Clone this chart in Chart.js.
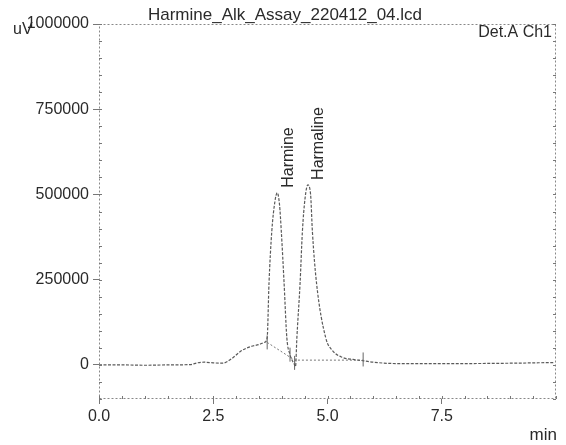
<!DOCTYPE html>
<html>
<head>
<meta charset="utf-8">
<script src="https://cdn.jsdelivr.net/npm/chart.js@4"></script>
<style>
  html, body { margin: 0; padding: 0; background: #fff; }
  #wrap { width: 566px; height: 445px; }
</style>
</head>
<body>
<div id="wrap"><canvas id="chrom" width="566" height="445"></canvas></div>
<script>
// chromatogram trace (min / uV)
const times  = [0.0, 0.5, 1.0, 1.5, 2.0, 2.15, 2.3, 2.5, 2.7, 2.9, 3.1, 3.3, 3.5, 3.62,
                3.68, 3.72, 3.78, 3.85, 3.90, 3.95, 3.99, 4.05, 4.11, 4.18, 4.24, 4.28,
                4.30, 4.33, 4.40, 4.45, 4.51, 4.57, 4.63, 4.67, 4.76, 4.96, 5.11, 5.33,
                5.56, 5.8, 6.0, 6.5, 7.0, 8.0, 9.0, 9.95];
const signal = [0, 0, -1000, 0, 1000, 6000, 8000, 6000, 5000, 18000, 40000, 53000, 60000, 66000,
                80000, 240000, 390000, 480000, 505000, 470000, 390000, 240000, 80000, 30000, 10000, 0,
                -5000, 80000, 240000, 390000, 490000, 528000, 500000, 390000, 240000, 80000, 42000, 22000,
                16000, 12000, 8000, 4000, 4000, 4000, 5000, 7000];

// integration baseline and event marks
const baseT = [3.68, 4.28, 5.78];
const baseV = [66000, 14000, 14000];
const markT = [3.68, 4.18, 4.28, 5.78];
const markV = [66000, 30000, 6000, 16000];

// peak names
const peakNames = ['Harmine', 'Harmaline'];
const peakT = [3.90, 4.57];
const peakV = [505000, 528000];

const xTicks = [0, 2.5, 5, 7.5];
const yTicks = [0, 250000, 500000, 750000, 1000000];

const FONT = '"Liberation Sans", Arial, sans-serif';
const INK = '#2a2a2a';

const toPts = (xs, ys) => xs.map((x, i) => ({ x: x, y: ys[i] }));

const decor = {
    id: 'decor',
    afterDraw(chart) {
        const ctx = chart.ctx;
        const a = chart.chartArea;
        const xs = chart.scales.x, ys = chart.scales.y;
        ctx.save();
        // dotted frame
        ctx.strokeStyle = '#888';
        ctx.lineWidth = 1;
        ctx.setLineDash([2, 2]);
        ctx.strokeRect(a.left + 0.5, a.top + 0.5, a.right - a.left - 1, a.bottom - a.top - 1);
        ctx.setLineDash([]);
        // minor ticks
        ctx.strokeStyle = '#777';
        ctx.beginPath();
        for (let v = -100000; v <= 1000000; v += 50000) {
            const py = Math.round(ys.getPixelForValue(v)) + 0.5;
            ctx.moveTo(a.left, py); ctx.lineTo(a.left + 3, py);
            ctx.moveTo(a.right, py); ctx.lineTo(a.right - 3, py);
        }
        for (let t = 0; t <= 10; t += 0.5) {
            const px = Math.round(xs.getPixelForValue(t)) + 0.5;
            ctx.moveTo(px, a.bottom); ctx.lineTo(px, a.bottom - 3);
        }
        ctx.stroke();

        ctx.fillStyle = INK;
        // title
        ctx.font = '17px ' + FONT;
        ctx.textAlign = 'center';
        ctx.textBaseline = 'middle';
        ctx.fillText('Harmine_Alk_Assay_220412_04.lcd', 285, 15);
        // unit labels
        ctx.textAlign = 'left';
        ctx.font = '16px ' + FONT;
        ctx.fillText('uV', 13, 30);
        ctx.textAlign = 'right';
        ctx.fillText('Det.A Ch1', 552, 33);
        ctx.font = '17px ' + FONT;
        ctx.fillText('min', 557, 435);
        // peak names, rotated
        ctx.font = '16px ' + FONT;
        ctx.textAlign = 'left';
        peakNames.forEach((name, i) => {
            const px = xs.getPixelForValue(peakT[i]) + 11;
            const py = ys.getPixelForValue(peakV[i]) - 5;
            ctx.save();
            ctx.translate(px, py);
            ctx.rotate(-Math.PI / 2);
            ctx.fillText(name, 0, 0);
            ctx.restore();
        });
        ctx.restore();
    }
};

new Chart(document.getElementById('chrom').getContext('2d'), {
    type: 'line',
    data: {
        datasets: [
            {
                label: 'Det.A Ch1',
                data: toPts(times, signal),
                borderColor: '#5a5a5a',
                borderWidth: 1.2,
                borderDash: [3, 1.5],
                pointRadius: 0,
                cubicInterpolationMode: 'monotone'
            },
            {
                label: 'baseline',
                data: toPts(baseT, baseV),
                borderColor: '#777',
                borderWidth: 1,
                borderDash: [2, 2],
                pointRadius: 0
            },
            {
                label: 'events',
                type: 'scatter',
                data: toPts(markT, markV),
                pointStyle: 'line',
                rotation: 90,
                radius: 7,
                borderColor: '#666',
                borderWidth: 1
            }
        ]
    },
    options: {
        responsive: false,
        animation: false,
        layout: { padding: { top: 24, right: 10, left: 0, bottom: 0 } },
        plugins: {
            legend: { display: false },
            tooltip: { enabled: false }
        },
        scales: {
            x: {
                type: 'linear',
                min: 0,
                max: 10,
                afterBuildTicks: s => { s.ticks = xTicks.map(v => ({ value: v })); },
                afterFit: s => { s.height = 46; },
                ticks: {
                    color: INK,
                    font: { family: FONT, size: 16 },
                    padding: 3,
                    maxRotation: 0,
                    callback: v => v.toFixed(1)
                },
                grid: { drawOnChartArea: false, tickLength: 5, color: '#777' },
                border: { display: false }
            },
            y: {
                min: -100000,
                max: 1000000,
                afterBuildTicks: s => { s.ticks = yTicks.map(v => ({ value: v })); },
                afterFit: s => { s.width = 99; },
                ticks: {
                    color: INK,
                    font: { family: FONT, size: 16 },
                    padding: 4,
                    callback: v => String(v)
                },
                grid: { drawOnChartArea: false, tickLength: 6, color: '#777' },
                border: { display: false }
            }
        }
    },
    plugins: [decor]
});
</script>
</body>
</html>
